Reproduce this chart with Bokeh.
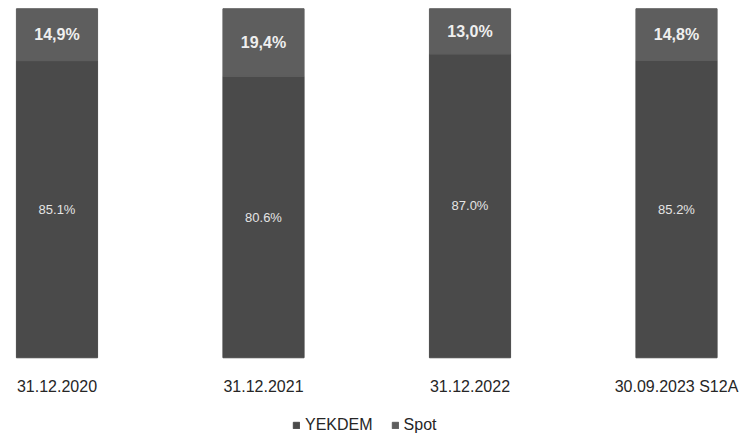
from bokeh.plotting import figure
from bokeh.models import (ColumnDataSource, Range1d, Legend, LegendItem,
                          LabelSet)
from bokeh.core.properties import value
from bokeh.embed import file_html
from bokeh.resources import INLINE

categories = ["31.12.2020", "31.12.2021", "31.12.2022", "30.09.2023 S12A"]
yekdem = [85.1, 80.6, 87.0, 85.2]
spot = [14.9, 19.4, 13.0, 14.8]

xs = list(range(len(categories)))
src = ColumnDataSource(dict(
    x=xs,
    cat=categories,
    cat_y=[-8.2] * len(categories),
    yekdem=yekdem,
    spot_bottom=yekdem,
    spot_top=[a + b for a, b in zip(yekdem, spot)],
    y_mid=[a / 2 for a in yekdem],
    s_mid=[a + b / 2 for a, b in zip(yekdem, spot)],
    y_lab=[f"{v:.1f}%" for v in yekdem],
    s_lab=[f"{v:.1f}".replace(".", ",") + "%" for v in spot],
))

FONT = "Liberation Sans"

p = figure(width=742, height=433, x_range=Range1d(-0.2736, 3.3196),
           y_range=Range1d(-21.7, 102.36), output_backend="svg",
           toolbar_location=None, min_border_left=0, min_border_right=0,
           min_border_top=0, min_border_bottom=0)
p.outline_line_color = None
p.grid.visible = False
p.xaxis.visible = False
p.yaxis.visible = False

r1 = p.vbar(x="x", bottom=0, top="yekdem", width=0.393, source=src,
            fill_color="#4a4a4a", line_color="#4a4a4a")
r2 = p.vbar(x="x", bottom="spot_bottom", top="spot_top", width=0.393,
            source=src, fill_color="#5e5e5e", line_color="#5e5e5e")

p.add_layout(LabelSet(x="x", y="y_mid", text="y_lab", source=src,
                      text_align="center", text_baseline="middle",
                      text_color="#e4e4e4", text_font_size="13px",
                      text_font=value(FONT)))
p.add_layout(LabelSet(x="x", y="s_mid", text="s_lab", source=src,
                      text_align="center", text_baseline="middle",
                      text_color="#efefef", text_font_size="16px",
                      text_font_style="bold", text_font=value(FONT)))
p.add_layout(LabelSet(x="x", y="cat_y", text="cat", source=src,
                      text_align="center", text_baseline="middle",
                      text_color="#262626", text_font_size="16px",
                      text_font=value(FONT)))

legend = Legend(items=[LegendItem(label="YEKDEM", renderers=[r1]),
                       LegendItem(label="Spot", renderers=[r2])],
                location=(292, -1), orientation="horizontal",
                border_line_color=None, background_fill_alpha=0,
                glyph_width=8, glyph_height=8, label_height=14,
                label_standoff=5, spacing=18, padding=0, margin=0,
                label_text_font_size="16px", label_text_font=FONT,
                label_text_color="#262626")
p.add_layout(legend, "center")

open("out.html", "w").write(file_html(p, INLINE))
